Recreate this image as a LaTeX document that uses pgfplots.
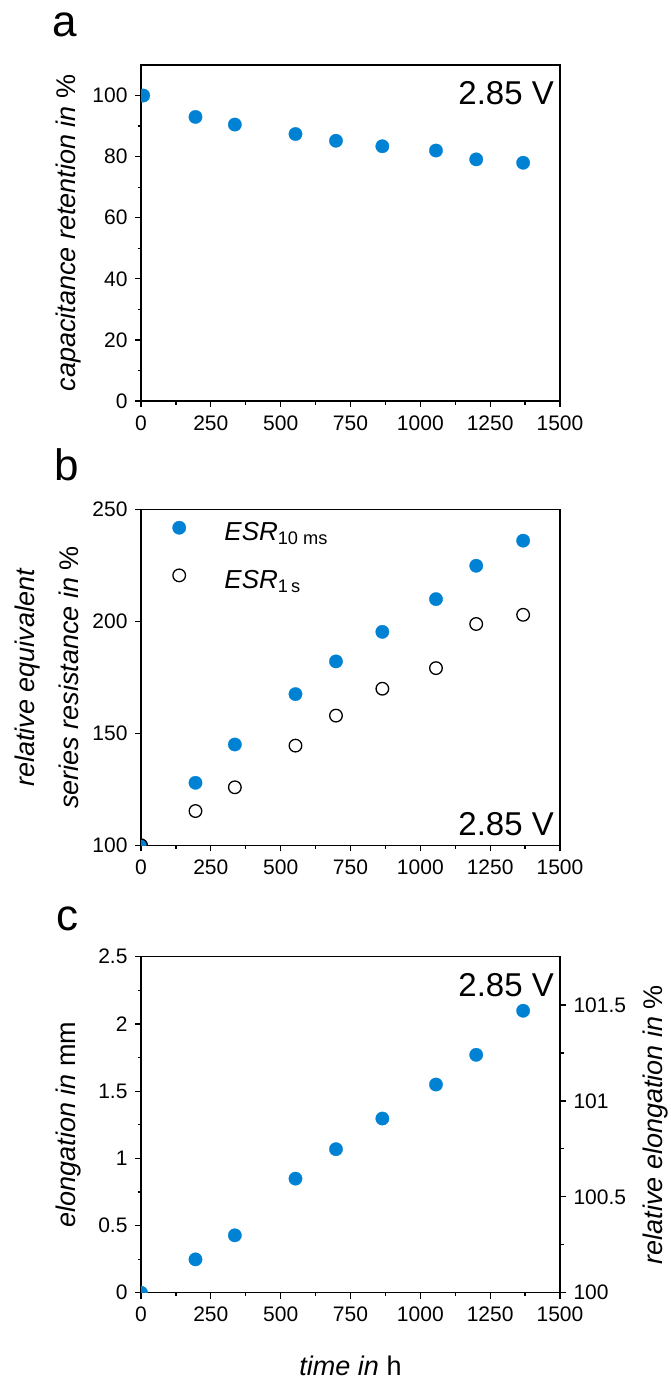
\documentclass[border=0pt]{standalone}
\usepackage{fontspec}
\setmainfont{Liberation Sans}
\usepackage{pgfplots}
\pgfplotsset{compat=1.18}
\definecolor{myblue}{RGB}{0,130,212}
\newcommand{\tfont}{\fontsize{21}{21}\selectfont}
\newcommand{\lfont}{\fontsize{27}{32}\selectfont}
\pgfplotsset{
  myax/.style={
    scale only axis, width=419pt, height=336pt, anchor=north west,
    xmin=0, xmax=1500, xtick={0,250,...,1500}, minor x tick num=1,
    tick align=outside, xtick pos=left, ytick pos=left,
    major tick length=6pt, minor tick length=3.5pt,
    axis line style={line width=1.3pt},
    tick style={line width=1.2pt, black},
    /pgf/number format/assume math mode=true,
    /pgf/number format/1000 sep={},
    ticklabel style={font=\tfont},
    xticklabel shift=5pt, yticklabel shift=4pt,
    label style={font=\lfont},
    clip marker paths=true,
  },
  fillm/.style={only marks, mark=*, mark size=6.7pt, mark options={fill=myblue, draw=myblue, line width=0.3pt}},
  openm/.style={only marks, mark=o, mark size=6.3pt, mark options={fill=white, draw=black, line width=1.3pt}},
}
\begin{document}
\begin{tikzpicture}
\useasboundingbox (0,0) rectangle (670pt,-1383pt);
\node[anchor=base west, inner sep=0pt, font=\fontsize{44}{44}\selectfont] at (52pt,-37pt) {a};
\node[anchor=base west, inner sep=0pt, font=\fontsize{44}{44}\selectfont] at (54pt,-480pt) {b};
\node[anchor=base west, inner sep=0pt, font=\fontsize{44}{44}\selectfont] at (56pt,-930pt) {c};

% panel a
\begin{axis}[myax, at={(141pt,-65pt)},
  ymin=0, ymax=110, ytick={0,20,...,100}, minor y tick num=1,
  ylabel={\textit{capacitance retention in} \%},
  ylabel style={at={(axis description cs:-0.1728,0.5)}, anchor=center}]
\addplot[fillm] coordinates {(8,100) (195,93.0) (336,90.5) (553,87.4) (698,85.2) (864,83.4) (1056,82.0) (1200,79.1) (1368,78.0)};
\node[anchor=base east, inner sep=0pt, font=\fontsize{33}{33}\selectfont] at (rel axis cs:0.9857,0.883) {2.85 V};
\end{axis}

% panel b
\begin{axis}[myax, at={(141pt,-509.3pt)},
  ymin=100, ymax=250, ytick={100,150,200,250},
  ylabel={\textit{relative equivalent}\\\textit{series resistance in} \%},
  ylabel style={at={(axis description cs:-0.2255,0.5)}, anchor=center, align=center, font=\fontsize{27}{44}\selectfont},
  legend style={draw=none, fill=none, inner sep=0pt, outer sep=0pt, at={(axis description cs:0.074,0.967)}, anchor=north west, font=\fontsize{26}{30}\selectfont, row sep=24pt},
  legend cell align=left,
  legend image code/.code={\path (-7pt,0pt) (43pt,0pt); \draw[#1] plot coordinates {(0pt,0.45em)};}]
\addplot[fillm] coordinates {(0,100) (195,127.9) (336,145.0) (553,167.5) (698,182.1) (864,195.3) (1056,209.9) (1200,224.8) (1368,236.0)};
\addlegendentry{\textit{ESR}\textsubscript{10 ms}}
\addplot[openm] coordinates {(0,100) (195,115.3) (336,125.9) (553,144.5) (698,157.9) (864,169.9) (1056,179.1) (1200,198.8) (1368,202.9)};
\addlegendentry{\textit{ESR}\textsubscript{1\,s}}
\node[anchor=base east, inner sep=0pt, font=\fontsize{33}{33}\selectfont] at (rel axis cs:0.9857,0.0298) {2.85 V};
\end{axis}

% panel c
\begin{axis}[myax, at={(141pt,-956.7pt)},
  ymin=0, ymax=2.5, ytick={0,0.5,...,2.5}, minor y tick num=1,
  yticklabels={0,0.5,1,1.5,2,2.5},
  ylabel={\textit{elongation in} mm},
  ylabel style={at={(axis description cs:-0.174,0.5)}, anchor=center},
  xlabel={\textit{time in} h},
  xlabel style={at={(axis description cs:0.5,-0.245)}, anchor=base}]
\addplot[fillm] coordinates {(0,0) (195,0.248) (336,0.427) (553,0.849) (698,1.068) (864,1.296) (1056,1.549) (1200,1.770) (1368,2.098)};
\node[anchor=base east, inner sep=0pt, font=\fontsize{33}{33}\selectfont] at (rel axis cs:0.9857,0.881) {2.85 V};
\end{axis}
\begin{axis}[scale only axis, width=419pt, height=336pt, anchor=north west, at={(141pt,-956.7pt)},
  xmin=0, xmax=1500, axis x line=none, axis y line*=right,
  ymin=100, ymax=101.752, ytick={100,100.5,101,101.5}, minor y tick num=1,
  yticklabels={100,100.5,101,101.5},
  tick align=outside, major tick length=6pt, minor tick length=3.5pt,
  axis line style={line width=1.3pt}, tick style={line width=1.2pt, black},
  /pgf/number format/assume math mode=true,
  ticklabel style={font=\tfont}, yticklabel shift=4pt,
  ylabel={\textit{relative elongation in} \%},
  ylabel style={at={(axis description cs:1.229,0.5)}, anchor=center, rotate=0, font=\lfont}]
\end{axis}
\end{tikzpicture}
\end{document}
